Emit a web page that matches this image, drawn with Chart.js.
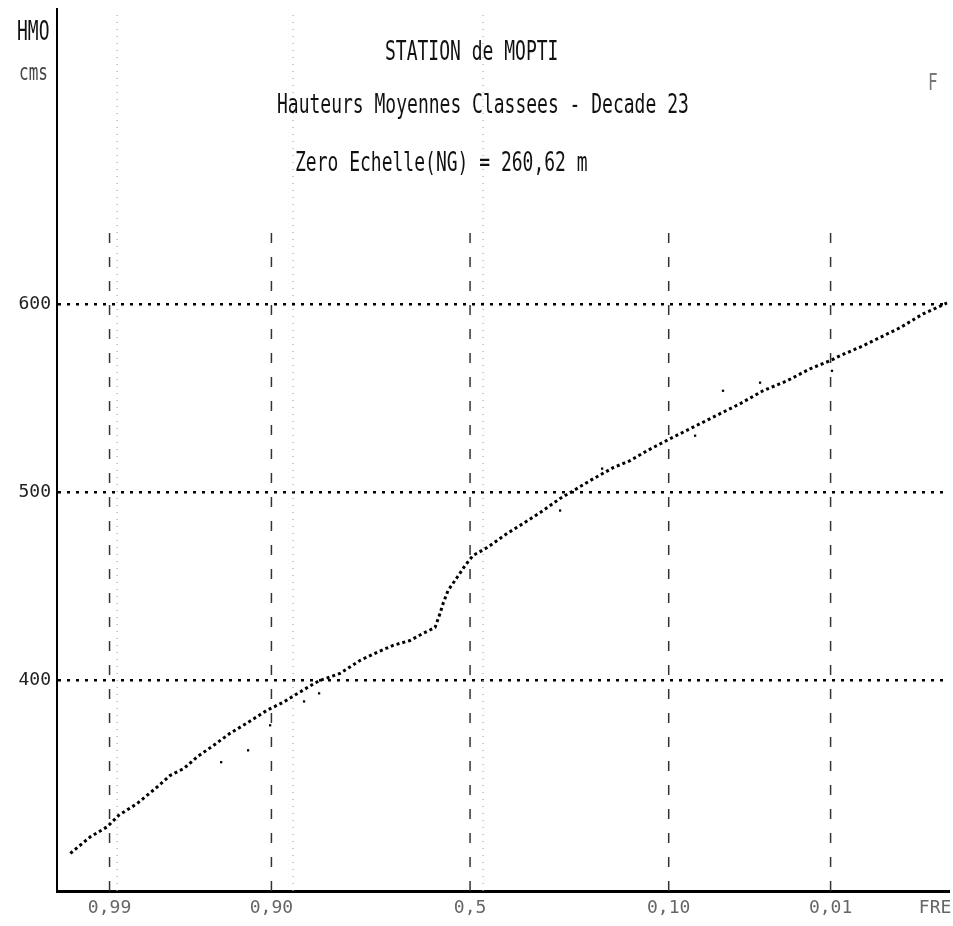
<!DOCTYPE html>
<html>
<head>
<meta charset="utf-8">
<title>Station de Mopti</title>
<script src="https://cdn.jsdelivr.net/npm/chart.js@4/dist/chart.umd.min.js"></script>
<style>
	html, body { margin: 0; padding: 0; background: #fff; overflow: hidden; }
	#wrap { width: 953px; height: 926px; position: relative; }
</style>
</head>
<body>
<div id="wrap"><canvas id="hmoChart"></canvas></div>
<script>
"use strict";

// x axis is a normal probability scale: values are the reduced variable z of the exceedance frequency
const freqTicks = [-2.326, -1.2816, 0, 1.2816, 2.326, 3.0];
const freqLabels = ["0,99", "0,90", "0,5", "0,10", "0,01", "FRE"];
const freqLines = [-2.326, -1.2816, 0, 1.2816, 2.326];
const ghostLines = [-2.277, -1.142, 0.084];
const heightTicks = [400, 500, 600];

// classed mean heights (cm)
const freqZ = [-2.579, -2.450, -2.342, -2.266, -2.148, -2.019, -1.934, -1.847, -1.761, -1.654,
	-1.546, -1.439, -1.310, -1.202, -1.116, -1.008, -0.968, -0.839, -0.710, -0.600,
	-0.497, -0.387, -0.303, -0.226, -0.194, -0.174, -0.142, -0.084, -0.032, 0.019,
	0.110, 0.239, 0.342, 0.452, 0.581, 0.645, 0.774, 0.923, 1.032, 1.142,
	1.290, 1.419, 1.484, 1.613, 1.742, 1.890, 2.045, 2.194, 2.323, 2.387,
	2.535, 2.626, 2.774, 2.923, 3.077];
const heights = [308.0, 316.8, 322.1, 328.3, 334.5, 343.3, 349.5, 353.1, 359.3, 365.5,
	372.0, 377.3, 384.1, 388.5, 392.9, 398.2, 400.0, 403.7, 410.6, 414.9,
	418.6, 421.2, 425.0, 428.1, 435.6, 440.9, 447.8, 454.7, 461.1, 466.4,
	470.6, 478.1, 483.4, 489.2, 496.7, 499.8, 506.2, 513.1, 516.8, 522.1,
	528.5, 533.8, 536.5, 541.8, 547.1, 554.0, 559.3, 565.7, 570.0, 572.6,
	577.9, 581.6, 587.5, 594.9, 600.7];

// stray marks beside the curve
const strayZ = [-1.606, -1.432, -1.290, -1.071, -0.974, 0.581, 0.852, 1.452, 1.632, 1.871, 2.335];
const strayH = [356.5, 362.8, 376.1, 388.8, 393.1, 490.3, 512.6, 530.1, 554.0, 558.3, 564.6];

const titleLines = [
	{ text: "STATION de MOPTI", x: 385, y: 60 },
	{ text: "Hauteurs Moyennes Classees - Decade 23", x: 277, y: 113 },
	{ text: "Zero Echelle(NG) = 260,62 m", x: 295, y: 171 }
];

const Y_MIN = 288, Y_MAX = 757, LINE_TOP = 644;
const MONO = "'DejaVu Sans Mono', 'Liberation Mono', monospace";

function verticalSets(list, top, dash, color, width){
	return list.map(z => ({
		type: 'line',
		data: [{ x: z, y: Y_MIN }, { x: z, y: top }],
		borderColor: color,
		borderWidth: width,
		borderDash: dash,
		pointRadius: 0,
		order: 5
	}));
}

function noPadding(scale){
	scale.paddingTop = 0;
	scale.paddingBottom = 0;
	scale.paddingLeft = 0;
	scale.paddingRight = 0;
}

const textPlugin = {
	id: 'plotText',
	afterDraw(chart){
		const ctx = chart.ctx;
		ctx.save();
		ctx.fillStyle = '#111';
		ctx.textBaseline = 'alphabetic';
		ctx.font = `18px ${MONO}`;
		ctx.scale(1, 1.45);
		titleLines.forEach(l => ctx.fillText(l.text, l.x, l.y / 1.45));
		ctx.fillText("HMO", 17, 40 / 1.45);
		ctx.fillStyle = '#444';
		ctx.font = `16px ${MONO}`;
		ctx.fillText("cms", 19, 80 / 1.45);
		ctx.fillStyle = '#777';
		ctx.fillText("F", 928, 90 / 1.45);
		ctx.restore();
	}
};

const curve = freqZ.map((z, i) => ({ x: z, y: heights[i] }));
const strays = strayZ.map((z, i) => ({ x: z, y: strayH[i] }));

new Chart(document.querySelector('#hmoChart').getContext('2d'), {
	type: 'scatter',
	data: {
		datasets: [
			{
				type: 'line',
				data: curve,
				borderColor: '#000',
				borderWidth: 3,
				borderDash: [3, 3],
				borderCapStyle: 'butt',
				pointRadius: 0,
				tension: 0,
				order: 1
			},
			{
				data: strays,
				pointStyle: 'rect',
				pointRadius: 1.6,
				backgroundColor: '#000',
				borderWidth: 0,
				order: 1
			},
			...verticalSets(freqLines, LINE_TOP, [10, 14], '#333', 1.5),
			...verticalSets(ghostLines, Y_MAX, [1, 6], '#aaa', 1.2)
		]
	},
	options: {
		responsive: true,
		maintainAspectRatio: false,
		animation: false,
		layout: { padding: { top: 9, right: 0, left: 0, bottom: 0 } },
		plugins: {
			legend: { display: false },
			tooltip: { enabled: false },
			title: { display: false }
		},
		scales: {
			x: {
				type: 'linear',
				min: -2.665,
				max: 3.09,
				afterFit(scale){ scale.height = 35; noPadding(scale); },
				afterBuildTicks(scale){ scale.ticks = freqTicks.map(v => ({ value: v })); },
				ticks: {
					autoSkip: false,
					maxRotation: 0,
					padding: 7,
					color: '#666',
					font: { family: MONO, size: 18 },
					callback: (value, index) => freqLabels[index]
				},
				grid: { drawOnChartArea: false, drawTicks: false },
				border: { display: true, color: '#000', width: 3 }
			},
			y: {
				type: 'linear',
				min: Y_MIN,
				max: Y_MAX,
				afterFit(scale){ scale.width = 57; noPadding(scale); },
				afterBuildTicks(scale){ scale.ticks = heightTicks.map(v => ({ value: v })); },
				ticks: {
					padding: 6,
					color: '#222',
					font: { family: MONO, size: 18 }
				},
				grid: { color: '#000', lineWidth: 2.5, drawTicks: false },
				border: { display: true, color: '#000', width: 2, dash: [3, 6] }
			}
		}
	},
	plugins: [textPlugin]
});
</script>
</body>
</html>
